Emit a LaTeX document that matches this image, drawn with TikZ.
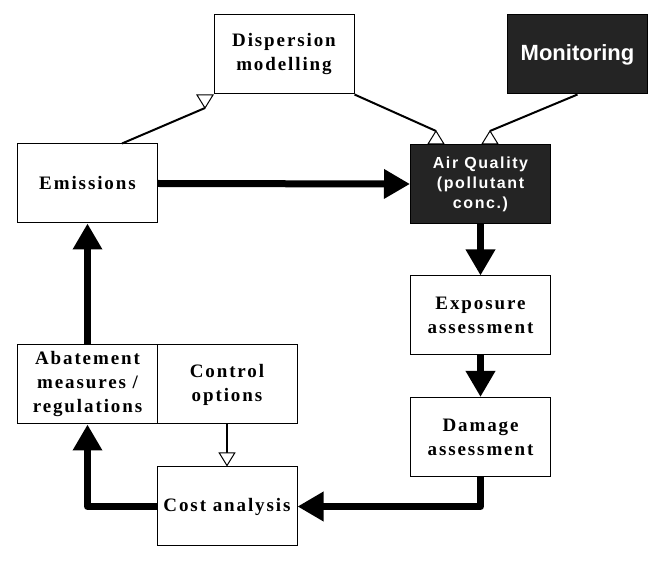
\documentclass[tikz,border=0pt]{standalone}
\usepackage{fontspec}
\setmainfont{Liberation Serif}
\newfontfamily\boxfont[LetterSpace=10]{Liberation Serif}
\newfontfamily\sansbox[LetterSpace=10]{Liberation Sans}
\newfontfamily\sansplain{Liberation Sans}
\usetikzlibrary{arrows.meta,calc}
\tikzset{
  box/.style={draw, line width=1pt, fill=white, minimum width=140pt, minimum height=79pt,
    inner sep=0pt, align=center, font=\boxfont\bfseries\fontsize{19}{24}\selectfont},
  darkbox/.style={box, fill=black!86, text=white,
    font=\sansbox\bfseries\fontsize{16}{20}\selectfont},
  bigarrow/.style={line width=7pt, line join=round, -{Triangle[length=26pt,width=28pt]}},
  thinconn/.style={line width=2pt},
  opentip/.style={-{Triangle[length=14pt,width=17pt,line width=1pt,fill=white]}},
  tri/.style={draw, line width=1pt, fill=white}
}
\begin{document}
\begin{tikzpicture}[x=1pt,y=-1pt]
\useasboundingbox (0,0) rectangle (665,561);
\node[box] (disp) at (284,54.5) {Dispersion\\modelling};
\node[darkbox, font=\sansplain\bfseries\fontsize{22}{26}\selectfont] (mon) at (577.5,54.5) {Monitoring};
\node[box] (em) at (87.5,183.5) {Emissions};
\node[darkbox] (aq) at (480.5,184) {Air Quality\\(pollutant\\conc.)};
\node[box] (exp) at (480.5,315.5) {Exposure\\assessment};
\node[box] (dam) at (480.5,437) {Damage\\assessment};
\node[box] (aba) at (87.5,384.5) {Abatement\\measures /\\regulations};
\node[box] (con) at (227,384.5) {Control\\options};
\node[box] (cost) at (227,506.5) {Cost analysis};
% thick flow
\draw[bigarrow] (em.east) -- (aq.west);
\draw[bigarrow] (aq.south) -- (exp.north);
\draw[bigarrow] (exp.south) -- (dam.north);
\draw[bigarrow] (dam.south) |- (cost.east);
\draw[bigarrow] (cost.west) -| (aba.south);
\draw[bigarrow] (aba.north) -- (em.south);
% thin connectors with open triangles
\coordinate (k1) at (205,108);
\coordinate (k2) at (436,131);
\coordinate (k3) at (490,131);
\draw[thinconn] ([xshift=34.5pt]em.north) -- (k1);
\draw[tri] (k1) -- ++(-8,-13) -- ++(16,0) -- cycle;
\draw[thinconn] (disp.south east) -- (k2);
\draw[tri] (k2) -- ++(-8,13) -- ++(16,0) -- cycle;
\draw[thinconn] (mon.south) -- (k3);
\draw[tri] (k3) -- ++(-8,13) -- ++(16,0) -- cycle;
\draw[line width=1.5pt, opentip] (con.south) -- (cost.north);
\end{tikzpicture}
\end{document}
